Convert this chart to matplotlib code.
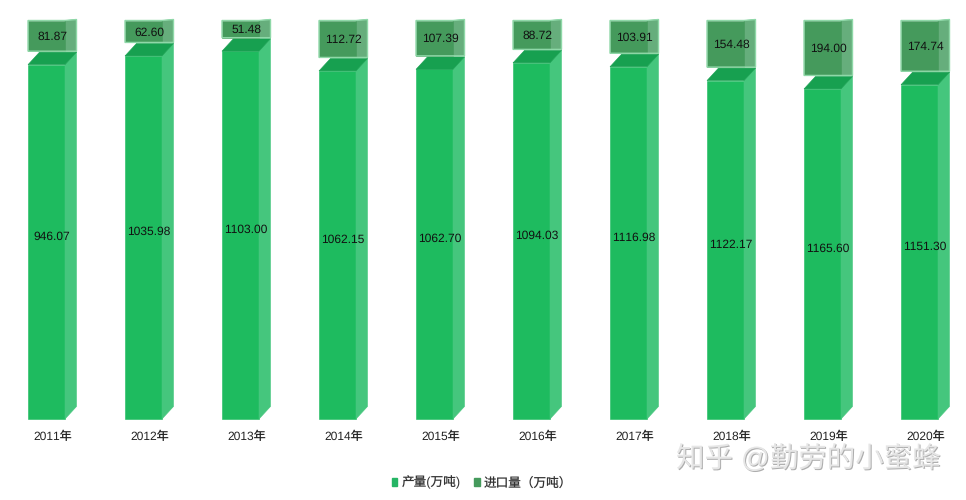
import numpy as np
import matplotlib
matplotlib.use("Agg")
import matplotlib.pyplot as plt
from matplotlib.patches import Polygon, Patch
import matplotlib.patheffects as pe

plt.rcParams['font.family'] = ['Liberation Sans', 'Noto Sans CJK SC', 'DejaVu Sans']
plt.rcParams['text.hinting'] = 'none'
plt.rcParams['text.hinting_factor'] = 1

years = ['2011年', '2012年', '2013年', '2014年', '2015年',
         '2016年', '2017年', '2018年', '2019年', '2020年']
output = [946.07, 1035.98, 1103.00, 1062.15, 1062.70,
          1094.03, 1116.98, 1122.17, 1165.60, 1151.30]
imports = [81.87, 62.60, 51.48, 112.72, 107.39,
           88.72, 103.91, 154.48, 194.00, 174.74]

W, H = 966, 500
fig = plt.figure(figsize=(W/100, H/100), dpi=100)

# axes: x in category units, y in percent of the stack
base_px, full_px = 419, 385
step_px = 97
ax = fig.add_axes([0, (H-base_px)/H, 1, full_px/H])
ax.set_xlim(-46.5/step_px, (W-46.5)/step_px)
ax.set_ylim(0, 100)
ax.axis('off')

bw = 37/step_px
dx = 11.5/step_px
dy = 12.5/full_px*100
gap = 1/full_px*100
px = 100/full_px

front, side, top = '#1EBB5F', '#45C67D', '#17A050'
box_front, box_side, box_edge = '#459A5C', '#66AE7C', '#8FD8A8'


def poly(pts, color, z=2, ec=None, lw=0.4):
    ax.add_patch(Polygon(pts, closed=True, facecolor=color, edgecolor=ec or color,
                         linewidth=lw, clip_on=False, zorder=z))


xs = np.arange(len(years))
p_out = np.array(output)/(np.array(output)+np.array(imports))*100
p_imp = 100-p_out

for x, a, b, v1, v2 in zip(xs, p_out, p_imp, output, imports):
    l, r = x-bw/2, x+bw/2
    # 产量
    poly([(l, 0), (r, 0), (r, a), (l, a)], front)
    poly([(r, 0), (r+dx, dy), (r+dx, a+dy), (r, a)], side)
    poly([(l, a), (r, a), (r+dx, a+dy), (l+dx, a+dy)], top)
    # 进口量, lifted by the depth
    y0 = a+dy+gap
    y1 = y0+b
    poly([(r, y0), (r+dx, y0), (r+dx, y1+px), (r, y1)], box_side, z=3)
    poly([(l, y0), (r, y0), (r, y1), (l, y1)], box_front, z=3)
    # light outline round the whole box only
    ax.add_patch(Polygon([(l, y0), (r+dx, y0), (r+dx, y1+px), (r, y1), (l, y1)], closed=True,
                         fill=False, edgecolor=box_edge, linewidth=1, clip_on=False, zorder=4))
    ax.text(x+dx/2, (a+dy)/2-px, f'{v1:.2f}', ha='center', va='center', fontsize=8.9,
            color='#111111', zorder=5)
    ax.text(x+dx/2, (y0+y1)/2-px, f'{v2:.2f}', ha='center', va='center', fontsize=8.9,
            color='#111111', zorder=5)
    ax.text(x+dx/2, -17.5*px, years[x], ha='center', va='center', fontsize=8.6,
            color='#222222', clip_on=False)

handles = [Patch(color='#26B565', label='产量(万吨)'), Patch(color='#459A5C', label='进口量（万吨）')]
fig.legend(handles=handles, loc='center', bbox_to_anchor=(482/W, 1-482.5/H), ncol=2, frameon=False,
           fontsize=9.1, handlelength=0.45, handleheight=0.5, handletextpad=0.3,
           columnspacing=1.1, labelcolor='#333333')

# watermark
fig.text(808/W, 1-459/H, '知乎 @勤劳的小蜜蜂', ha='center', va='center', fontsize=20.5,
         color='#E6E6E6', zorder=10,
         path_effects=[pe.withSimplePatchShadow(offset=(0.7, -0.7), shadow_rgbFace='#8A8A8A', alpha=0.7)])

fig.savefig('out.png', dpi=100, facecolor='white')
